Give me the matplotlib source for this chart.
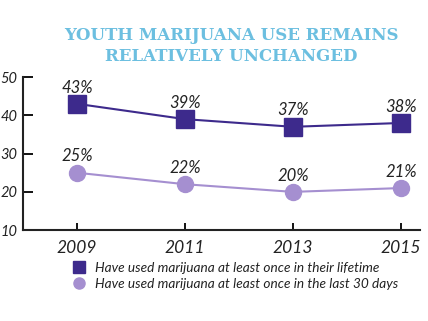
import matplotlib.pyplot as plt
from matplotlib.lines import Line2D

years = [2009, 2011, 2013, 2015]
lifetime = [43, 39, 37, 38]
last30 = [25, 22, 20, 21]
lifetime_labels = ["43%", "39%", "37%", "38%"]
last30_labels = ["25%", "22%", "20%", "21%"]
yticks = [10, 20, 30, 40, 50]

dark = "#3d2a8c"
light = "#a58fd0"
title_col = "#6cbfe0"

plt.rcParams['font.family'] = ['Lato', 'DejaVu Sans']

fig = plt.figure(figsize=(4.28, 3.21), dpi=100)
ax = fig.add_axes([0.054, 0.283, 0.927, 0.477])

ax.plot(years, lifetime, color=dark, lw=1.5, marker="s", ms=12.5, mec=dark, mfc=dark, zorder=3)
ax.plot(years, last30, color=light, lw=1.5, marker="o", ms=11.5, mec=light, mfc=light, zorder=3)

for x, y, s in zip(years, lifetime, lifetime_labels):
    ax.annotate(s, (x, y), xytext=(0, 6), textcoords="offset points", ha="center", va="bottom",
                fontsize=12, style="italic", color="#222222")
for x, y, s in zip(years, last30, last30_labels):
    ax.annotate(s, (x, y), xytext=(0, 6), textcoords="offset points", ha="center", va="bottom",
                fontsize=12, style="italic", color="#222222")

ax.set_xlim(2008.0, 2015.35)
ax.set_ylim(10, 50)
ax.set_xticks(years)
ax.set_yticks(yticks)
ax.tick_params(axis="y", direction="in", length=7, width=1.3, labelsize=10.5, pad=4)
ax.tick_params(axis="x", direction="in", length=5, width=1.3, labelsize=12.5, pad=7)
for lab in ax.get_xticklabels() + ax.get_yticklabels():
    lab.set_style("italic")
    lab.set_color("#222222")
for sp in ["top", "right"]:
    ax.spines[sp].set_visible(False)
for sp in ["left", "bottom"]:
    ax.spines[sp].set_linewidth(1.5)
    ax.spines[sp].set_color("#222222")

fig.text(0.54, 0.857, "YOUTH MARIJUANA USE REMAINS\nRELATIVELY UNCHANGED", ha="center", va="center",
         fontsize=12, fontweight="bold", family="DejaVu Serif", color=title_col, linespacing=1.3)

handles = [
    Line2D([], [], ls="none", marker="s", ms=8, color=dark),
    Line2D([], [], ls="none", marker="o", ms=8, color=light),
]
labels = ["Have used marijuana at least once in their lifetime",
          "Have used marijuana at least once in the last 30 days"]
leg = fig.legend(handles, labels, loc="upper left", bbox_to_anchor=(0.14, 0.2), frameon=False,
                 fontsize=9.8, handletextpad=0.2, labelspacing=0.25, borderaxespad=0)
for t in leg.get_texts():
    t.set_style("italic")
    t.set_color("#222222")

fig.savefig("out.png", dpi=100)
